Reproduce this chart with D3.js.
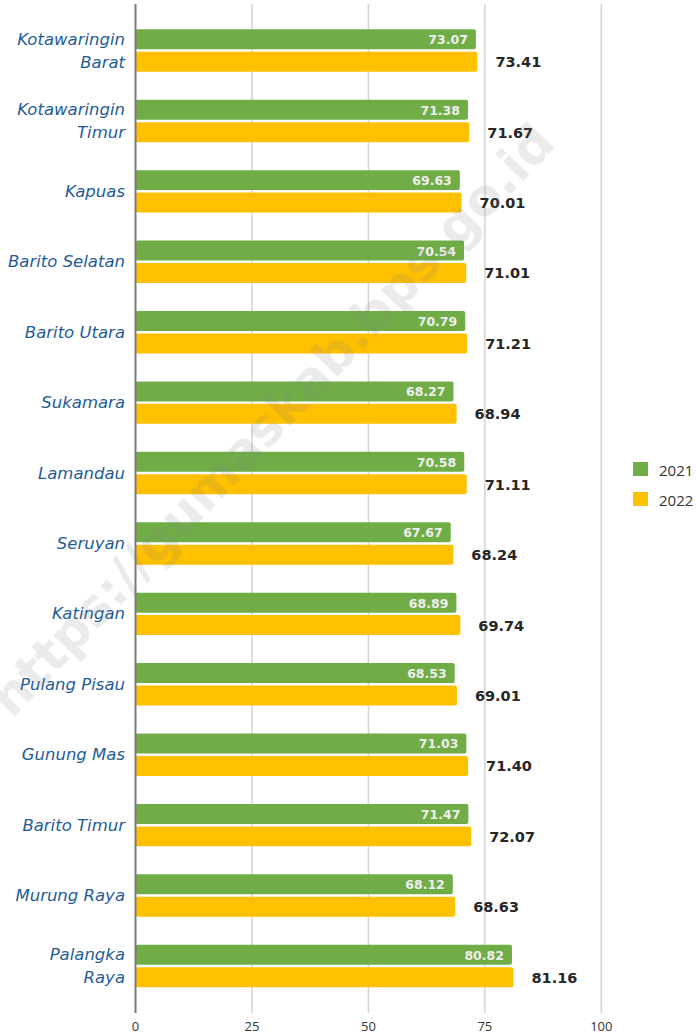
<!DOCTYPE html>
<html>
<head>
<meta charset="utf-8">
<script src="https://cdn.jsdelivr.net/npm/d3@7"></script>
<style>
  html, body { margin: 0; padding: 0; background: #fff; }
  svg { display: block; }
</style>
</head>
<body>
<svg id="chart" width="696" height="1033"></svg>
<script>
const categories = [
  ["Kotawaringin", "Barat"],
  ["Kotawaringin", "Timur"],
  ["Kapuas"],
  ["Barito Selatan"],
  ["Barito Utara"],
  ["Sukamara"],
  ["Lamandau"],
  ["Seruyan"],
  ["Katingan"],
  ["Pulang Pisau"],
  ["Gunung Mas"],
  ["Barito Timur"],
  ["Murung Raya"],
  ["Palangka", "Raya"]
];
const series = ["2021", "2022"];
const values2021 = [73.07, 71.38, 69.63, 70.54, 70.79, 68.27, 70.58, 67.67, 68.89, 68.53, 71.03, 71.47, 68.12, 80.82];
const values2022 = [73.41, 71.67, 70.01, 71.01, 71.21, 68.94, 71.11, 68.24, 69.74, 69.01, 71.40, 72.07, 68.63, 81.16];
const xTicks = [0, 25, 50, 75, 100];
const colors = { "2021": "#70AD47", "2022": "#FFC000" };
const watermark = "https://gumaskab.bps.go.id";

const svg = d3.select("#chart");
const keys = categories.map(c => c.join(" "));
const data = keys.map((k, i) => ({ key: k, lines: categories[i], "2021": values2021[i], "2022": values2022[i] }));

const x = d3.scaleLinear().domain([0, 100]).range([135.5, 601.3]);
const y0 = d3.scaleBand().domain(keys).range([15.3, 1001.2]).paddingInner(0.398).paddingOuter(0.199);
const y1 = d3.scaleBand().domain(series).range([0, y0.bandwidth()]).paddingInner(0.11);

const plotTop = 4, plotBottom = 1013;

// gridlines
svg.append("g").selectAll("line").data(xTicks.filter(t => t > 0)).join("line")
  .attr("x1", d => x(d)).attr("x2", d => x(d))
  .attr("y1", plotTop).attr("y2", plotBottom)
  .attr("stroke", "#d4d4d4").attr("stroke-width", 1.5);

// x tick labels
svg.append("g").selectAll("text").data(xTicks).join("text")
  .attr("x", d => x(d)).attr("y", 1030.5)
  .attr("text-anchor", "middle")
  .attr("font-family", "'Open Sans', sans-serif").attr("font-size", 13)
  .attr("fill", "#333").text(d => d);

// bars
const groups = svg.append("g").selectAll("g").data(data).join("g")
  .attr("transform", d => `translate(0,${y0(d.key)})`);

groups.selectAll("rect").data(d => series.map(s => ({ s, v: d[s] }))).join("rect")
  .attr("x", x(0)).attr("y", d => y1(d.s))
  .attr("width", d => x(d.v) - x(0)).attr("height", y1.bandwidth())
  .attr("rx", 2).attr("ry", 2)
  .attr("fill", d => colors[d.s]);

// labels inside green bars
groups.append("text")
  .attr("x", d => x(d["2021"]) - 8)
  .attr("y", y1("2021") + y1.bandwidth() / 2 + 0.5)
  .attr("text-anchor", "end").attr("dominant-baseline", "central")
  .attr("font-family", "'DejaVu Sans', sans-serif").attr("font-size", 12.5).attr("font-weight", "bold")
  .attr("fill", "#eeeeee").text(d => d["2021"].toFixed(2));

// labels after orange bars
groups.append("text")
  .attr("x", d => x(d["2022"]) + 18)
  .attr("y", y1("2022") + y1.bandwidth() / 2 + 0.5)
  .attr("text-anchor", "start").attr("dominant-baseline", "central")
  .attr("font-family", "'DejaVu Sans', sans-serif").attr("font-size", 14.5).attr("font-weight", "bold")
  .attr("fill", "#262626").text(d => d["2022"].toFixed(2));

// category labels
const catG = svg.append("g").selectAll("text").data(data).join("text")
  .attr("text-anchor", "end")
  .attr("font-family", "'DejaVu Sans', sans-serif").attr("font-size", 16.5).attr("font-style", "italic")
  .attr("fill", "#1F5C99");
catG.each(function(d) {
  const c = y0(d.key) + y0.bandwidth() / 2;
  const n = d.lines.length;
  d3.select(this).selectAll("tspan").data(d.lines).join("tspan")
    .attr("x", 125)
    .attr("y", (l, i) => c + (i - (n - 1) / 2) * 23)
    .attr("dominant-baseline", "central")
    .text(l => l);
});

// y axis line
svg.append("line")
  .attr("x1", x(0)).attr("x2", x(0))
  .attr("y1", plotTop).attr("y2", plotBottom)
  .attr("stroke", "#7a7a7a").attr("stroke-width", 2);

// legend
const legend = svg.append("g").selectAll("g").data(series).join("g")
  .attr("transform", (d, i) => `translate(633,${462 + i * 30})`);
legend.append("rect").attr("width", 15).attr("height", 14).attr("fill", d => colors[d]);
legend.append("text").attr("x", 26).attr("y", 7.5)
  .attr("dominant-baseline", "central")
  .attr("font-family", "'Open Sans', sans-serif").attr("font-size", 15)
  .attr("fill", "#333").text(d => d);

// watermark
svg.append("text")
  .attr("transform", "translate(272,420) rotate(-46.5)")
  .attr("text-anchor", "middle").attr("dominant-baseline", "central")
  .attr("font-family", "'DejaVu Sans', sans-serif").attr("font-size", 51).attr("font-weight", "bold")
  .attr("fill", "#808080").attr("fill-opacity", 0.16)
  .text(watermark);
</script>
</body>
</html>
